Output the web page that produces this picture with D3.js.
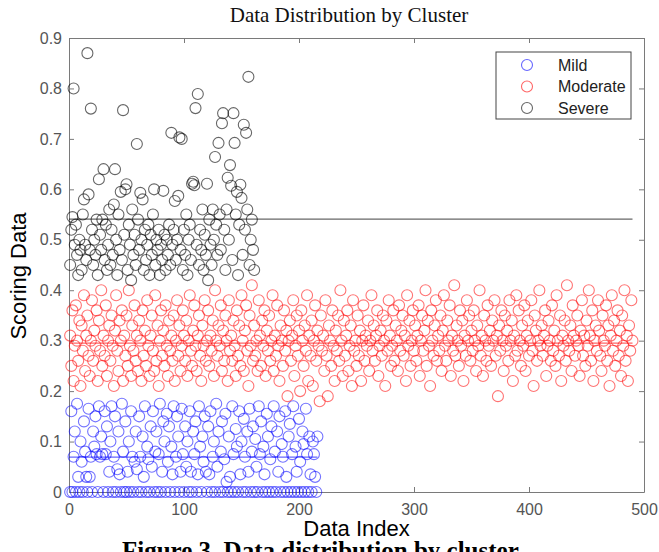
<!DOCTYPE html>
<meta charset="utf-8">
<title>Data Distribution by Cluster</title>
<style>
  body { margin: 0; background: #fff; }
  svg { display: block; }
</style>
<body>
<svg id="chart" width="659" height="552"></svg>
<script src="https://cdn.jsdelivr.net/npm/d3@7"></script>
<script>
// values, one per data index (starting at 1)
var severe = [0.45,0.52,0.545,0.80,0.49,0.53,0.47,0.43,0.50,0.48,
  0.44,0.55,0.58,0.49,0.46,0.87,0.59,0.48,0.76,0.52,
  0.45,0.50,0.47,0.54,0.43,0.62,0.51,0.48,0.54,0.64,
  0.46,0.53,0.44,0.49,0.56,0.45,0.52,0.47,0.57,0.64,
  0.50,0.43,0.55,0.48,0.595,0.46,0.757,0.51,0.60,0.61,
  0.44,0.53,0.49,0.42,0.56,0.47,0.51,0.45,0.69,0.54,
  0.48,0.593,0.50,0.58,0.44,0.52,0.46,0.49,0.53,0.43,
  0.51,0.47,0.55,0.60,0.45,0.50,0.48,0.52,0.43,0.49,
  0.46,0.597,0.51,0.44,0.50,0.47,0.53,0.45,0.712,0.49,
  0.52,0.577,0.46,0.50,0.587,0.703,0.48,0.70,0.44,0.52,
  0.47,0.55,0.43,0.50,0.53,0.46,0.611,0.615,0.608,0.761,
  0.49,0.789,0.45,0.52,0.48,0.56,0.44,0.51,0.47,0.611,
  0.42,0.54,0.49,0.45,0.56,0.50,0.664,0.53,0.47,0.692,
  0.55,0.48,0.731,0.751,0.52,0.44,0.56,0.623,0.50,0.648,
  0.607,0.46,0.751,0.692,0.55,0.595,0.43,0.53,0.609,0.583,
  0.47,0.728,0.52,0.712,0.56,0.823,0.45,0.50,0.54,0.48,0.44];

var mild = [0,0.16,0,0.07,0.12,0,0.175,0.03,0,0.10,
  0.06,0,0.14,0.08,0.03,0,0.165,0.03,0.07,0,
  0.12,0.09,0.15,0.075,0,0.17,0.07,0.11,0.075,0,
  0.16,0.075,0.13,0,0.04,0.10,0.17,0,0.07,0.15,
  0,0.045,0.12,0.035,0,0.175,0.08,0,0.14,0,
  0.04,0.10,0,0.16,0.07,0,0.06,0.12,0.045,0,
  0.15,0.07,0,0.11,0.03,0.17,0,0.09,0.065,0,
  0.13,0.05,0.16,0,0.08,0.12,0,0.075,0.175,0,
  0.04,0.14,0.10,0,0.155,0.06,0.13,0,0.09,0.035,
  0.17,0,0.07,0.15,0.11,0,0.04,0.165,0.075,0,
  0.13,0.05,0.10,0,0.16,0.04,0,0.12,0.075,0.14,
  0,0.035,0.17,0.09,0,0.11,0.06,0.15,0.04,0,
  0.13,0.035,0.16,0,0.07,0.10,0,0.175,0.05,0.12,
  0,0.08,0.14,0,0.065,0.155,0.02,0,0.11,0.03,
  0,0.17,0.075,0,0.125,0.09,0,0.16,0.035,0.10,
  0,0.145,0.07,0,0.12,0.04,0.165,0,0.08,0.13,
  0,0.105,0.05,0,0.17,0.075,0.14,0,0.09,0.035,
  0,0.155,0.11,0,0.065,0.13,0,0.17,0.08,0,
  0.12,0.04,0.15,0,0.095,0.07,0,0.16,0.03,0,
  0.11,0.135,0,0.075,0.17,0,0.09,0.04,0,0.145,
  0.06,0,0.12,0.095,0,0.165,0.075,0,0.11,0.035,
  0,0.10,0.075,0.03,0,0.11];

var moderate = [0.31,0.25,0.36,0.22,0.29,0.37,0.30,0.26,0.34,0.21,
  0.33,0.28,0.39,0.24,0.31,0.35,0.27,0.23,0.30,0.38,
  0.26,0.32,0.29,0.36,0.22,0.34,0.28,0.40,0.25,0.31,
  0.27,0.37,0.23,0.30,0.33,0.26,0.35,0.29,0.21,0.32,
  0.39,0.28,0.24,0.34,0.30,0.36,0.22,0.31,0.27,0.35,
  0.25,0.40,0.29,0.23,0.33,0.28,0.37,0.26,0.31,0.24,
  0.34,0.30,0.22,0.36,0.27,0.32,0.25,0.38,0.29,0.23,
  0.31,0.35,0.28,0.24,0.39,0.26,0.33,0.21,0.30,0.36,
  0.27,0.32,0.25,0.37,0.29,0.23,0.34,0.28,0.31,0.26,
  0.35,0.22,0.30,0.38,0.27,0.33,0.24,0.29,0.36,0.31,
  0.26,0.34,0.23,0.30,0.39,0.28,0.25,0.32,0.37,0.29,
  0.24,0.31,0.35,0.27,0.22,0.33,0.29,0.38,0.26,0.30,
  0.36,0.25,0.31,0.28,0.34,0.23,0.40,0.30,0.27,0.33,
  0.29,0.37,0.24,0.32,0.26,0.35,0.30,0.22,0.38,0.28,
  0.31,0.26,0.34,0.29,0.23,0.36,0.27,0.33,0.25,0.39,
  0.30,0.24,0.32,0.37,0.28,0.21,0.35,0.29,0.41,0.26,
  0.33,0.27,0.30,0.24,0.38,0.31,0.25,0.34,0.29,0.36,
  0.23,0.32,0.28,0.35,0.26,0.30,0.39,0.24,0.31,0.27,
  0.37,0.29,0.22,0.33,0.30,0.25,0.36,0.28,0.32,0.19,
  0.30,0.34,0.26,0.31,0.38,0.23,0.29,0.35,0.27,0.32,
  0.20,0.36,0.30,0.25,0.33,0.28,0.39,0.22,0.31,0.27,
  0.34,0.21,0.30,0.37,0.26,0.32,0.29,0.18,0.35,0.28,
  0.31,0.24,0.38,0.27,0.19,0.33,0.30,0.25,0.36,0.29,
  0.22,0.32,0.28,0.35,0.26,0.40,0.30,0.23,0.34,0.27,
  0.31,0.36,0.24,0.29,0.33,0.21,0.38,0.28,0.30,0.25,
  0.35,0.27,0.32,0.22,0.30,0.37,0.26,0.31,0.29,0.34,
  0.24,0.30,0.39,0.28,0.33,0.26,0.31,0.36,0.23,0.29,
  0.32,0.27,0.35,0.30,0.21,0.34,0.28,0.38,0.31,0.25,
  0.29,0.36,0.26,0.33,0.30,0.24,0.37,0.28,0.32,0.35,
  0.27,0.31,0.22,0.39,0.29,0.34,0.25,0.30,0.36,0.28,
  0.33,0.26,0.31,0.37,0.23,0.30,0.35,0.28,0.32,0.40,
  0.25,0.34,0.29,0.21,0.36,0.30,0.27,0.33,0.38,0.26,
  0.31,0.28,0.35,0.24,0.32,0.39,0.29,0.26,0.34,0.30,
  0.37,0.23,0.31,0.28,0.41,0.27,0.33,0.30,0.25,0.36,
  0.29,0.34,0.22,0.31,0.27,0.38,0.30,0.35,0.26,0.32,
  0.28,0.36,0.30,0.24,0.33,0.29,0.40,0.27,0.31,0.23,
  0.35,0.30,0.26,0.37,0.29,0.32,0.25,0.34,0.30,0.38,
  0.27,0.31,0.19,0.33,0.28,0.36,0.30,0.24,0.35,0.29,
  0.32,0.26,0.38,0.30,0.34,0.22,0.31,0.27,0.39,0.28,
  0.36,0.30,0.25,0.33,0.29,0.37,0.24,0.31,0.34,0.27,
  0.30,0.38,0.28,0.21,0.35,0.32,0.26,0.30,0.40,0.29,
  0.33,0.27,0.31,0.36,0.23,0.29,0.34,0.30,0.26,0.37,
  0.28,0.32,0.25,0.39,0.30,0.27,0.35,0.22,0.31,0.29,
  0.34,0.26,0.41,0.30,0.28,0.33,0.24,0.37,0.31,0.27,
  0.30,0.35,0.29,0.23,0.32,0.38,0.27,0.31,0.25,0.34,
  0.29,0.40,0.31,0.26,0.36,0.22,0.30,0.33,0.28,0.38,
  0.32,0.27,0.24,0.35,0.30,0.29,0.37,0.26,0.33,0.21,
  0.31,0.39,0.28,0.34,0.25,0.30,0.36,0.27,0.32,0.23,
  0.35,0.29,0.40,0.26,0.31,0.22,0.33,0.28,0.38,0.30];

var clusterNames = ["Mild", "Moderate", "Severe"];
var clusterColors = ["#0000ff", "#ff0000", "#000000"];
var clusterMeans = [0.069, 0.295, 0.541];   // horizontal centroid lines
var meanLineEnd = [216, 490, 490];          // index where each line stops
var xTicks = [0, 100, 200, 300, 400, 500];
var yTicks = [0, 0.1, 0.2, 0.3, 0.4, 0.5, 0.6, 0.7, 0.8, 0.9];

var svg = d3.select("#chart");
var plotLeft = 69, plotRight = 644, plotTop = 38, plotBottom = 492;

var x = d3.scaleLinear().domain([0, 500]).range([plotLeft, plotRight]);
var y = d3.scaleLinear().domain([0, 0.9]).range([plotBottom, plotTop]);

var axisColor = "#7a7a7a", labelColor = "#555";

// title
svg.append("text")
  .attr("x", 349).attr("y", 22)
  .attr("text-anchor", "middle")
  .style("font", "21px 'Liberation Serif', 'Times New Roman', serif")
  .style("fill", "#111")
  .text("Data Distribution by Cluster");

// axes (MATLAB style: ticks inside, box on)
var gx = svg.append("g").attr("transform", "translate(0," + plotBottom + ")")
  .call(d3.axisBottom(x).tickValues(xTicks).tickSizeInner(-5).tickSizeOuter(0).tickPadding(12));
var gxt = svg.append("g").attr("transform", "translate(0," + plotTop + ")")
  .call(d3.axisTop(x).tickValues(xTicks).tickSizeInner(-5).tickSizeOuter(0).tickFormat(""));
var gy = svg.append("g").attr("transform", "translate(" + plotLeft + ",0)")
  .call(d3.axisLeft(y).tickValues(yTicks).tickSizeInner(-5).tickSizeOuter(0).tickPadding(7)
    .tickFormat(function(d) { return d === 0 ? "0" : d3.format(".1f")(d); }));
var gyr = svg.append("g").attr("transform", "translate(" + plotRight + ",0)")
  .call(d3.axisRight(y).tickValues(yTicks).tickSizeInner(-5).tickSizeOuter(0).tickFormat(""));

[gx, gxt, gy, gyr].forEach(function(g) {
  g.selectAll(".domain").attr("stroke", axisColor);
  g.selectAll(".tick line").attr("stroke", axisColor);
  g.selectAll("text")
    .style("font", "16px 'Liberation Sans', Arial, sans-serif")
    .attr("fill", labelColor);
});

// axis labels
svg.append("text")
  .attr("x", (plotLeft + plotRight) / 2).attr("y", 536)
  .attr("text-anchor", "middle")
  .style("font", "22px 'Liberation Sans', Arial, sans-serif")
  .text("Data Index");

svg.append("text")
  .attr("transform", "translate(26,276) rotate(-90)")
  .attr("text-anchor", "middle")
  .style("font", "22px 'Liberation Sans', Arial, sans-serif")
  .text("Scoring Data");

// points
var series = [mild, moderate, severe];
var plot = svg.append("g");
series.forEach(function(vals, k) {
  plot.append("g").selectAll("circle")
    .data(vals)
    .join("circle")
    .attr("cx", function(d, i) { return x(i + 1); })
    .attr("cy", function(d) { return y(d); })
    .attr("r", 5.5)
    .attr("fill", "none")
    .attr("stroke", clusterColors[k])
    .attr("stroke-opacity", k === 2 ? 0.6 : 0.55)
    .attr("stroke-width", 1.1);
});

// centroid lines
clusterMeans.forEach(function(m, k) {
  plot.append("line")
    .attr("x1", x(0)).attr("x2", x(meanLineEnd[k]))
    .attr("y1", y(m)).attr("y2", y(m))
    .attr("stroke", clusterColors[k])
    .attr("stroke-opacity", 0.6)
    .attr("stroke-width", 1.3);
});

// legend
var lg = svg.append("g");
lg.append("rect")
  .attr("x", 496).attr("y", 52).attr("width", 135).attr("height", 67)
  .attr("fill", "#fff").attr("stroke", "#444").attr("stroke-width", 1);
clusterNames.forEach(function(name, k) {
  var ry = 65 + k * 21.5;
  lg.append("circle")
    .attr("cx", 527).attr("cy", ry).attr("r", 5.5)
    .attr("fill", "none").attr("stroke", clusterColors[k])
    .attr("stroke-opacity", 0.6).attr("stroke-width", 1.1);
  lg.append("text")
    .attr("x", 558).attr("y", ry + 5.5)
    .style("font", "16px 'Liberation Sans', Arial, sans-serif")
    .attr("fill", "#222")
    .text(name);
});

// figure caption, cut off by the bottom of the image
svg.append("text")
  .attr("x", 122).attr("y", 559)
  .style("font", "bold 25px 'Liberation Serif', 'Times New Roman', serif")
  .text("Figure 3. Data distribution by cluster");
</script>
</body>
